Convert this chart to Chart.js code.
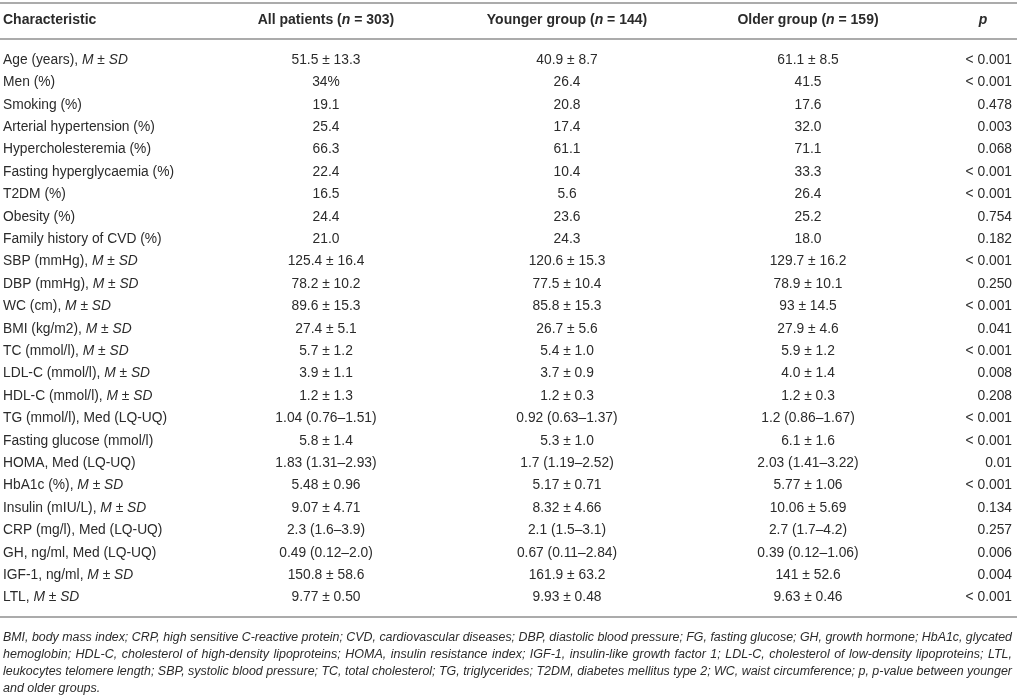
<!DOCTYPE html>
<html>
<head>
<meta charset="utf-8">
<script src="https://cdn.jsdelivr.net/npm/chart.js@4.4.1/dist/chart.umd.min.js"></script>
<style>
  html, body { margin: 0; padding: 0; background: #fff; }
  #wrap { width: 1017px; height: 695px; position: relative; }
</style>
</head>
<body>
<div id="wrap"><canvas id="myChart"></canvas></div>
<script>
const headers = ["Characteristic", "All patients (n = 303)", "Younger group (n = 144)", "Older group (n = 159)", "p"];

const characteristics = [
  "Age (years), M ± SD", "Men (%)", "Smoking (%)", "Arterial hypertension (%)", "Hypercholesteremia (%)",
  "Fasting hyperglycaemia (%)", "T2DM (%)", "Obesity (%)", "Family history of CVD (%)",
  "SBP (mmHg), M ± SD", "DBP (mmHg), M ± SD", "WC (cm), M ± SD", "BMI (kg/m2), M ± SD",
  "TC (mmol/l), M ± SD", "LDL-C (mmol/l), M ± SD", "HDL-C (mmol/l), M ± SD", "TG (mmol/l), Med (LQ-UQ)",
  "Fasting glucose (mmol/l)", "HOMA, Med (LQ-UQ)", "HbA1c (%), M ± SD", "Insulin (mIU/L), M ± SD",
  "CRP (mg/l), Med (LQ-UQ)", "GH, ng/ml, Med (LQ-UQ)", "IGF-1, ng/ml, M ± SD", "LTL, M ± SD"
];

const allPatients = [
  "51.5 ± 13.3", "34%", "19.1", "25.4", "66.3", "22.4", "16.5", "24.4", "21.0",
  "125.4 ± 16.4", "78.2 ± 10.2", "89.6 ± 15.3", "27.4 ± 5.1", "5.7 ± 1.2", "3.9 ± 1.1", "1.2 ± 1.3",
  "1.04 (0.76–1.51)", "5.8 ± 1.4", "1.83 (1.31–2.93)", "5.48 ± 0.96", "9.07 ± 4.71",
  "2.3 (1.6–3.9)", "0.49 (0.12–2.0)", "150.8 ± 58.6", "9.77 ± 0.50"
];

const youngerGroup = [
  "40.9 ± 8.7", "26.4", "20.8", "17.4", "61.1", "10.4", "5.6", "23.6", "24.3",
  "120.6 ± 15.3", "77.5 ± 10.4", "85.8 ± 15.3", "26.7 ± 5.6", "5.4 ± 1.0", "3.7 ± 0.9", "1.2 ± 0.3",
  "0.92 (0.63–1.37)", "5.3 ± 1.0", "1.7 (1.19–2.52)", "5.17 ± 0.71", "8.32 ± 4.66",
  "2.1 (1.5–3.1)", "0.67 (0.11–2.84)", "161.9 ± 63.2", "9.93 ± 0.48"
];

const olderGroup = [
  "61.1 ± 8.5", "41.5", "17.6", "32.0", "71.1", "33.3", "26.4", "25.2", "18.0",
  "129.7 ± 16.2", "78.9 ± 10.1", "93 ± 14.5", "27.9 ± 4.6", "5.9 ± 1.2", "4.0 ± 1.4", "1.2 ± 0.3",
  "1.2 (0.86–1.67)", "6.1 ± 1.6", "2.03 (1.41–3.22)", "5.77 ± 1.06", "10.06 ± 5.69",
  "2.7 (1.7–4.2)", "0.39 (0.12–1.06)", "141 ± 52.6", "9.63 ± 0.46"
];

const pValues = [
  "< 0.001", "< 0.001", "0.478", "0.003", "0.068", "< 0.001", "< 0.001", "0.754", "0.182",
  "< 0.001", "0.250", "< 0.001", "0.041", "< 0.001", "0.008", "0.208", "< 0.001", "< 0.001",
  "0.01", "< 0.001", "0.134", "0.257", "0.006", "0.004", "< 0.001"
];

const footnoteLines = [
  "BMI, body mass index; CRP, high sensitive C-reactive protein; CVD, cardiovascular diseases; DBP, diastolic blood pressure; FG, fasting glucose; GH, growth hormone; HbA1c, glycated",
  "hemoglobin; HDL-C, cholesterol of high-density lipoproteins; HOMA, insulin resistance index; IGF-1, insulin-like growth factor 1; LDL-C, cholesterol of low-density lipoproteins; LTL,",
  "leukocytes telomere length; SBP, systolic blood pressure; TC, total cholesterol; TG, triglycerides; T2DM, diabetes mellitus type 2; WC, waist circumference; p, p-value between younger",
  "and older groups."
];

// layout (pixels on the x scale, row units on the y scale)
const colX = [3, 326, 567, 808, 1012];
const colAlign = ["left", "center", "center", "center", "right"];
const headerX = [3, 326, 567, 808, 983];
const headerAlign = ["left", "center", "center", "center", "center"];
const headerRow = -1.79;
const ruleRows = [-2.55, -0.92, 24.87];
const footRow = 25.76;
const footStep = 0.76;
const FONT = "'Liberation Sans', Arial, sans-serif";
const TEXT_COLOR = "#2b2b2b";

function segments(text, italicRe) {
  if (!italicRe) return [{ t: text, it: false }];
  return text.split(italicRe).filter(s => s !== "").map(s => ({ t: s, it: italicRe.test(s) && s.match(italicRe)[0] === s }));
}

function fontFor(size, bold, italic) {
  return (italic ? "italic " : "") + (bold ? "bold " : "") + size + "px " + FONT;
}

function drawRich(ctx, text, x, y, align, opts) {
  const segs = segments(text, opts.italicRe);
  let total = 0;
  segs.forEach(s => {
    ctx.font = fontFor(opts.size, opts.bold, s.it || opts.italic);
    s.w = ctx.measureText(s.t).width;
    total += s.w;
  });
  let start = x;
  if (align === "center") start = x - total / 2;
  if (align === "right") start = x - total;
  ctx.textAlign = "left";
  segs.forEach(s => {
    ctx.font = fontFor(opts.size, opts.bold, s.it || opts.italic);
    ctx.fillText(s.t, start, y);
    start += s.w;
  });
}

function drawJustified(ctx, line, x, y, width, last) {
  const natural = ctx.measureText(line).width;
  ctx.textAlign = "left";
  if (natural >= width) {
    ctx.save();
    ctx.translate(x, y);
    ctx.scale(width / natural, 1);
    ctx.fillText(line, 0, 0);
    ctx.restore();
    return;
  }
  if (last) {
    ctx.fillText(line, x, y);
    return;
  }
  const words = line.split(" ");
  const wordsW = words.reduce((a, w) => a + ctx.measureText(w).width, 0);
  const gap = (width - wordsW) / (words.length - 1);
  let cx = x;
  words.forEach(w => {
    ctx.fillText(w, cx, y);
    cx += ctx.measureText(w).width + gap;
  });
}

const tablePlugin = {
  id: "tableText",
  afterDatasetsDraw(chart) {
    const ctx = chart.ctx;
    const yScale = chart.scales.y;
    const xScale = chart.scales.x;
    ctx.save();

    ctx.strokeStyle = "#ababab";
    ctx.lineWidth = 2;
    ruleRows.forEach(r => {
      const py = Math.round(yScale.getPixelForValue(r));
      ctx.beginPath();
      ctx.moveTo(xScale.getPixelForValue(0), py);
      ctx.lineTo(xScale.getPixelForValue(1017), py);
      ctx.stroke();
    });

    ctx.fillStyle = TEXT_COLOR;
    ctx.textBaseline = "middle";
    chart.data.datasets.forEach((ds, di) => {
      const meta = chart.getDatasetMeta(di);
      meta.data.forEach((pt, i) => {
        if (ds.kind === "footnote") {
          ctx.font = fontFor(12.5, false, true);
          drawJustified(ctx, ds.texts[i], pt.x, pt.y, 1009, i === ds.texts.length - 1);
        } else {
          drawRich(ctx, ds.texts[i], pt.x, pt.y, ds.aligns[i], ds.textOpts);
        }
      });
    });
    ctx.restore();
  }
};

window.onload = function() {
  const ctx = document.getElementById("myChart").getContext("2d");

  const columns = [characteristics, allPatients, youngerGroup, olderGroup, pValues];

  const cellSets = columns.map((col, j) => ({
    label: headers[j],
    data: col.map((_, i) => ({ x: colX[j], y: i })),
    texts: col,
    aligns: col.map(() => colAlign[j]),
    textOpts: { size: 13.8, bold: false, italicRe: j === 0 ? /(\bM\b|\bSD\b)/ : null },
    pointRadius: 0,
    showLine: false
  }));

  const headerSet = {
    label: "header",
    data: headers.map((_, j) => ({ x: headerX[j], y: headerRow })),
    texts: headers,
    aligns: headerAlign,
    textOpts: { size: 14, bold: true, italicRe: /(\bn\b|\bp\b)/ },
    pointRadius: 0,
    showLine: false
  };

  const footSet = {
    label: "footnote",
    kind: "footnote",
    data: footnoteLines.map((_, k) => ({ x: 3, y: footRow + k * footStep })),
    texts: footnoteLines,
    pointRadius: 0,
    showLine: false
  };

  const yMin = -2.679;
  const myChart = new Chart(ctx, {
    type: "scatter",
    data: { datasets: [headerSet].concat(cellSets, [footSet]) },
    options: {
      responsive: true,
      maintainAspectRatio: false,
      animation: false,
      events: [],
      layout: { padding: 0 },
      plugins: { legend: { display: false }, tooltip: { enabled: false } },
      scales: {
        x: { type: "linear", min: 0, max: 1017, display: false },
        y: { type: "linear", reverse: true, min: yMin, max: yMin + 695 / 22.4, display: false }
      }
    },
    plugins: [tablePlugin]
  });
};
</script>
</body>
</html>
